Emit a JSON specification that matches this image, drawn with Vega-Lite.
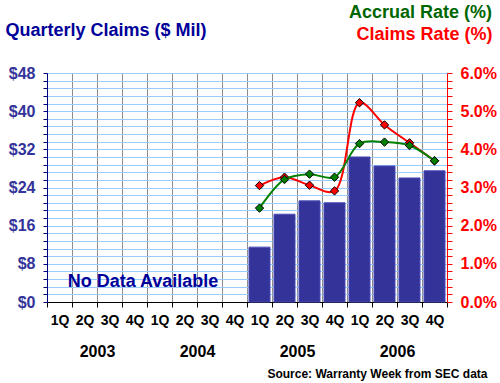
{
  "$schema": "https://vega.github.io/schema/vega-lite/v6.json",
  "width": 400,
  "height": 229,
  "autosize": "none",
  "padding": {"left": 47, "top": 73, "right": 53, "bottom": 81},
  "background": "white",
  "config": {"view": {"stroke": null}, "font": "Liberation Sans"},
  "title": {
    "text": "Accrual Rate (%)",
    "anchor": "end",
    "frame": "group",
    "dx": 45,
    "offset": -15,
    "baseline": "alphabetic",
    "color": "#006600",
    "fontSize": 18,
    "fontWeight": "bold",
    "font": "Liberation Sans"
  },
  "datasets": {
    "q": [
      {"q": "2003 1Q", "claims": null, "accrual": null, "claimsRate": null},
      {"q": "2003 2Q", "claims": null, "accrual": null, "claimsRate": null},
      {"q": "2003 3Q", "claims": null, "accrual": null, "claimsRate": null},
      {"q": "2003 4Q", "claims": null, "accrual": null, "claimsRate": null},
      {"q": "2004 1Q", "claims": null, "accrual": null, "claimsRate": null},
      {"q": "2004 2Q", "claims": null, "accrual": null, "claimsRate": null},
      {"q": "2004 3Q", "claims": null, "accrual": null, "claimsRate": null},
      {"q": "2004 4Q", "claims": null, "accrual": null, "claimsRate": null},
      {"q": "2005 1Q", "claims": 11.5, "accrual": 2.46, "claimsRate": 3.05},
      {"q": "2005 2Q", "claims": 18.4, "accrual": 3.21, "claimsRate": 3.27},
      {"q": "2005 3Q", "claims": 21.2, "accrual": 3.35, "claimsRate": 3.06},
      {"q": "2005 4Q", "claims": 20.8, "accrual": 3.27, "claimsRate": 2.91},
      {"q": "2006 1Q", "claims": 30.4, "accrual": 4.15, "claimsRate": 5.22},
      {"q": "2006 2Q", "claims": 28.5, "accrual": 4.19, "claimsRate": 4.64},
      {"q": "2006 3Q", "claims": 26.0, "accrual": 4.10, "claimsRate": 4.17},
      {"q": "2006 4Q", "claims": 27.5, "accrual": 3.70, "claimsRate": 3.70}
    ],
    "note": [{"q": "2003 4Q", "v": 3.1, "label": "No Data Available"}],
    "years": [{"year": "2003"}, {"year": "2004"}, {"year": "2005"}, {"year": "2006"}]
  },
  "layer": [
    {
      "layer": [
        {
          "data": {"name": "q"},
          "mark": {"type": "bar", "color": "#333399", "stroke": "#4b4bb8", "strokeWidth": 1, "width": {"band": 0.84}},
          "encoding": {
            "x": {
              "field": "q", "type": "ordinal", "sort": null,
              "scale": {"domain": ["2003 1Q","2003 2Q","2003 3Q","2003 4Q","2004 1Q","2004 2Q","2004 3Q","2004 4Q","2005 1Q","2005 2Q","2005 3Q","2005 4Q","2006 1Q","2006 2Q","2006 3Q","2006 4Q"], "paddingInner": 0, "paddingOuter": 0},
              "axis": {
                "title": null,
                "orient": "bottom",
                "labelExpr": "slice(datum.label, 5)",
                "labelAngle": 0,
                "labelFont": "Liberation Sans",
                "labelFontSize": 14,
                "labelFontWeight": "bold",
                "labelColor": "black",
                "labelPadding": 6,
                "tickSize": 5,
                "tickColor": "black",
                "tickBand": "extent",
                "domainColor": "black",
                "grid": true,
                "gridColor": "#8c8c8c",
                "gridWidth": 1
              }
            },
            "y": {
              "field": "claims", "type": "quantitative",
              "scale": {"domain": [0, 48], "nice": false, "zero": true},
              "axis": {
                "orient": "left",
                "values": [0,1.6,3.2,4.8,6.4,8,9.6,11.2,12.8,14.4,16,17.6,19.2,20.8,22.4,24,25.6,27.2,28.8,30.4,32,33.6,35.2,36.8,38.4,40,41.6,43.2,44.8,46.4,48],
                "tickCount": 100,
                "labelExpr": "abs(datum.value/8 - round(datum.value/8)) < 0.01 ? '$' + format(datum.value, 'd') : ''",
                "labelOverlap": false,
                "labelFlush": false,
                "labelFont": "Liberation Sans",
                "labelFontSize": 16,
                "labelFontWeight": "bold",
                "labelColor": "#333399",
                "labelPadding": 8,
                "tickSize": 4,
                "tickColor": "#000080",
                "domainColor": "#000080",
                "grid": true,
                "gridColor": "#99ccff",
                "gridWidth": 1,
                "title": "Quarterly Claims ($ Mil)",
                "titleAngle": 0,
                "titleX": -42,
                "titleY": -38,
                "titleAlign": "left",
                "titleBaseline": "alphabetic",
                "titleFont": "Liberation Sans",
                "titleFontSize": 18,
                "titleFontWeight": "bold",
                "titleColor": "#000099"
              }
            }
          }
        },
        {
          "data": {"name": "note"},
          "mark": {"type": "text", "align": "center", "baseline": "alphabetic", "font": "Liberation Sans", "fontSize": 18, "fontWeight": "bold", "color": "#000099", "dx": -4},
          "encoding": {
            "x": {"field": "q", "type": "ordinal", "bandPosition": 1},
            "y": {"field": "v", "type": "quantitative"},
            "text": {"field": "label"}
          }
        }
      ]
    },
    {
      "data": {"name": "q"},
      "transform": [{"filter": "datum.accrual != null"}],
      "layer": [
        {
          "mark": {"type": "line", "color": "#ff0000", "strokeWidth": 2, "interpolate": "catmull-rom"},
          "encoding": {
            "x": {"field": "q", "type": "ordinal", "sort": null,
              "scale": {"domain": ["2003 1Q","2003 2Q","2003 3Q","2003 4Q","2004 1Q","2004 2Q","2004 3Q","2004 4Q","2005 1Q","2005 2Q","2005 3Q","2005 4Q","2006 1Q","2006 2Q","2006 3Q","2006 4Q"], "paddingInner": 0, "paddingOuter": 0},
              "axis": null},
            "y": {
              "field": "claimsRate", "type": "quantitative",
              "scale": {"domain": [0, 6], "nice": false},
              "axis": {
                "orient": "right",
                "values": [0,0.2,0.4,0.6,0.8,1,1.2,1.4,1.6,1.8,2,2.2,2.4,2.6,2.8,3,3.2,3.4,3.6,3.8,4,4.2,4.4,4.6,4.8,5,5.2,5.4,5.6,5.8,6],
                "tickCount": 100,
                "labelExpr": "abs(datum.value - round(datum.value)) < 0.01 ? format(datum.value, '.1f') + '%' : ''",
                "labelOverlap": false,
                "labelFlush": false,
                "labelFont": "Liberation Sans",
                "labelFontSize": 16,
                "labelFontWeight": "bold",
                "labelColor": "#ff0000",
                "labelPadding": 8,
                "tickSize": 5,
                "tickColor": "#ff0000",
                "domainColor": "#ff0000",
                "grid": false,
                "title": "Claims Rate (%)",
                "titleAngle": 0,
                "titleX": 45,
                "titleY": -34,
                "titleAlign": "right",
                "titleBaseline": "alphabetic",
                "titleFont": "Liberation Sans",
                "titleFontSize": 18,
                "titleFontWeight": "bold",
                "titleColor": "#ff0000"
              }
            }
          }
        },
        {
          "mark": {"type": "point", "shape": "diamond", "size": 70, "filled": true, "fill": "#ff0000", "stroke": "black", "strokeWidth": 1, "opacity": 1},
          "encoding": {
            "x": {"field": "q", "type": "ordinal", "sort": null},
            "y": {"field": "claimsRate", "type": "quantitative"}
          }
        },
        {
          "mark": {"type": "line", "color": "#008000", "strokeWidth": 2, "interpolate": "catmull-rom"},
          "encoding": {
            "x": {"field": "q", "type": "ordinal", "sort": null},
            "y": {"field": "accrual", "type": "quantitative"}
          }
        },
        {
          "mark": {"type": "point", "shape": "diamond", "size": 70, "filled": true, "fill": "#008000", "stroke": "black", "strokeWidth": 1, "opacity": 1},
          "encoding": {
            "x": {"field": "q", "type": "ordinal", "sort": null},
            "y": {"field": "accrual", "type": "quantitative"}
          }
        }
      ]
    },
    {
      "data": {"name": "years"},
      "mark": {"type": "point", "opacity": 0},
      "encoding": {
        "x": {
          "field": "year", "type": "ordinal",
          "scale": {"paddingInner": 0, "paddingOuter": 0},
          "axis": {
            "orient": "bottom",
            "domain": false,
            "ticks": false,
            "grid": false,
            "labelAngle": 0,
            "labelPadding": 41,
            "labelFont": "Liberation Sans",
            "labelFontSize": 16,
            "labelFontWeight": "bold",
            "labelColor": "black",
            "title": "Source: Warranty Week from SEC data",
            "titleX": 440,
            "titleY": 75,
            "titleAlign": "right",
            "titleBaseline": "alphabetic",
            "titleFont": "Liberation Sans",
            "titleFontSize": 12,
            "titleFontWeight": "bold",
            "titleColor": "black"
          }
        }
      }
    }
  ],
  "resolve": {"scale": {"x": "independent", "y": "independent"}, "axis": {"x": "independent", "y": "independent"}}
}
